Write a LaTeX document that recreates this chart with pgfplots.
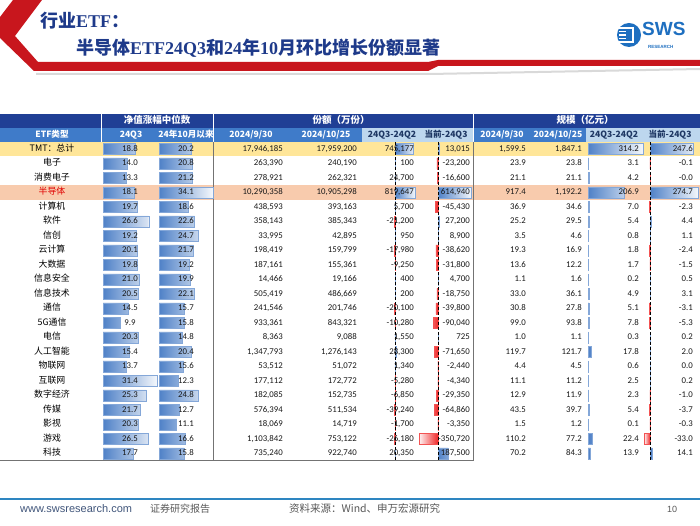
\documentclass[border=0pt]{standalone}
\usepackage{pgfplots}
\pgfplotsset{compat=1.18}
\usepackage{pgfplotstable}
\usepackage{fontspec}
\setmainfont{Carlito}
\newfontfamily\cjk{Noto Sans CJK SC}
\newfontfamily\tser{Liberation Serif}
\newfontfamily\lsans{Liberation Sans}
\definecolor{hdark}{HTML}{203F95}
\definecolor{hmid}{HTML}{3F7BC9}
\definecolor{hlight}{HTML}{BDD7EE}
\definecolor{htext}{HTML}{1F3864}
\definecolor{rowy}{HTML}{FFE699}
\definecolor{rowo}{HTML}{F8CBAD}
\definecolor{barb}{HTML}{4F81C7}
\definecolor{barr}{HTML}{F02828}
\definecolor{swsred}{HTML}{C8161D}
\definecolor{ttl}{HTML}{1E3A8A}
\definecolor{foot}{HTML}{2E86C1}
\definecolor{semi}{HTML}{E00000}
\definecolor{logob}{HTML}{1E6FC0}

\pgfplotstableread{
row q3 oct sd sc gd gc
0 18.8 20.2 745177 13015 314.2 247.6
1 14.0 20.8 100 -23200 3.1 -0.1
2 13.3 21.2 24700 -16600 4.2 -0.04
3 18.1 34.1 819647 614940 206.9 274.7
4 19.7 18.6 5700 -45430 7.0 -2.3
5 26.6 22.6 -21200 27200 5.4 4.4
6 19.2 24.7 950 8900 0.8 1.1
7 20.1 21.7 -17980 -38620 1.8 -2.4
8 19.8 19.2 -9250 -31800 1.7 -1.5
9 21.0 19.9 400 4700 0.2 0.5
10 20.5 22.1 200 -18750 4.9 3.1
11 14.5 15.7 -20100 -39800 5.1 -3.1
12 9.9 15.8 -10280 -90040 7.8 -5.3
13 20.3 14.8 1550 725 0.3 0.2
14 15.4 20.4 28300 -71650 17.8 2.0
15 13.7 15.6 1340 -2440 0.6 0.04
16 31.4 12.3 -5280 -4340 2.5 0.2
17 25.3 24.8 -6850 -29350 2.3 -1.0
18 21.7 12.7 -39240 -64860 5.4 -3.7
19 20.3 11.1 -1700 -3350 0.1 -0.3
20 26.5 16.6 -26180 -350720 22.4 -33.0
21 17.7 15.8 20350 187500 13.9 14.1
}\tdata

\pgfplotsset{
 bcol/.style={scale only axis, hide axis, height=319pt, ymin=-0.5, ymax=21.5,
   y dir=reverse, clip=false, anchor=north west},
 pbar/.style={xbar, bar width=0.76, bar shift=0pt, draw=barb!70, line width=0.4pt,
   left color=barb, right color=barb!6},
 nbar/.style={xbar, bar width=0.76, bar shift=0pt, draw=barr!80, line width=0.4pt,
   left color=barr!6, right color=barr},
 zline/.style={black, densely dashed, line width=0.5pt, forget plot}
}

\begin{document}
\begin{tikzpicture}[x=1pt,y=1pt]
\path[use as bounding box] (0,0) rectangle (700,525);
\fill[white] (0,0) rectangle (700,525);

% title decoration
\fill[black!15] (36,452) -- (430,452) -- (700,457) -- (700,455) -- (430,450) -- (36,450) -- cycle;
\fill[swsred] (13,525) -- (42,525) -- (15,489) -- (38,463) -- (428,463) -- (438,465) -- (700,465)
  -- (700,459) -- (438,459) -- (428,454) -- (34,454) -- (0,487) -- (0,508) -- cycle;
\node[anchor=mid west, inner sep=0, text=ttl, font=\bfseries\fontsize{18}{20}\selectfont] at (40,500)
  {{\cjk 行业}{\tser ETF}{\cjk ：}};
\node[anchor=mid west, inner sep=0, text=ttl, font=\bfseries\fontsize{18}{20}\selectfont] at (76,473)
  {{\cjk 半导体}{\tser ETF24Q3}{\cjk 和}{\tser 24}{\cjk 年}{\tser 10}{\cjk 月环比增长份额显著}};

% logo
\fill[logob] (629,490) circle (12);
\foreach \k in {-7,-3.5,0,3.5,7} \fill[white] (618.5,{490+\k-0.8}) rectangle (626,{490+\k+0.8});
\draw[white, line width=1.4pt] (626,497) -- (633,497) -- (633,483) -- (626,483);
\node[anchor=mid west, inner sep=0, text=logob, font=\lsans\bfseries\fontsize{19}{20}\selectfont] at (642,492) {SWS};
\node[anchor=mid west, inner sep=0, text=logob, font=\lsans\bfseries\fontsize{4.5}{5}\selectfont] at (648,479) {RESEARCH};

% header
\fill[hdark] (0,397) rectangle (700,411);
\fill[hmid] (0,383.25) rectangle (700,397);
\fill[hlight] (362,383.25) rectangle (473,397);
\fill[hlight] (586,383.25) rectangle (700,397);
\foreach \xx in {101,213,473} \draw[white, line width=1pt] (\xx,383.25) -- (\xx,411);

% highlighted rows
\fill[rowy] (0,368.75) rectangle (700,383.25);
\fill[rowo] (0,325.25) rectangle (700,339.75);

% grid lines
\draw[black!55, line width=0.6pt] (213,383.25) -- (213,64.25);
\draw[black!55, line width=0.6pt] (473,383.25) -- (473,64.25);
\draw[black!55, line width=0.6pt] (0,64.25) -- (473,64.25);

% data bars
\begin{axis}[bcol, at={(103pt,383.25pt)}, width=55pt, xmin=0, xmax=32]
\addplot[pbar] table[x=q3, y=row]{\tdata};
\end{axis}
\begin{axis}[bcol, at={(159pt,383.25pt)}, width=54pt, xmin=0, xmax=34.2]
\addplot[pbar] table[x=oct, y=row]{\tdata};
\end{axis}
\begin{axis}[bcol, at={(361.925pt,383.25pt)}, width=57.575pt, xmin=-1350000, xmax=1000000]
\addplot[pbar, restrict x to domain=0:3000000] table[x=sd, y=row]{\tdata};
\addplot[nbar, restrict x to domain=-3000000:0] table[x=sd, y=row]{\tdata};
\addplot[zline] coordinates {(0,-0.5) (0,21.5)};
\end{axis}
\begin{axis}[bcol, at={(416.4pt,383.25pt)}, width=59.4pt, xmin=-400000, xmax=700000]
\addplot[pbar, restrict x to domain=0:3000000] table[x=sc, y=row]{\tdata};
\addplot[nbar, restrict x to domain=-3000000:0] table[x=sc, y=row]{\tdata};
\addplot[zline] coordinates {(0,-0.5) (0,21.5)};
\end{axis}
\begin{axis}[bcol, at={(588pt,383.25pt)}, width=56pt, xmin=0, xmax=320]
\addplot[pbar] table[x=gd, y=row]{\tdata};
\end{axis}
\begin{axis}[bcol, at={(643pt,383.25pt)}, width=56pt, xmin=-40, xmax=280]
\addplot[pbar, restrict x to domain=0:1000] table[x=gc, y=row]{\tdata};
\addplot[nbar, restrict x to domain=-1000:0] table[x=gc, y=row]{\tdata};
\addplot[zline] coordinates {(0,-0.5) (0,21.5)};
\end{axis}

% header texts
\tikzset{h1/.style={anchor=mid, inner sep=0, text=white, font=\cjk\bfseries\fontsize{9.5}{10}\selectfont},
         h2/.style={anchor=mid, inner sep=0, text=white, font=\cjk\bfseries\fontsize{8.6}{9}\selectfont},
         h3/.style={h2, text=htext}}
\node[h1] at (157,404) {净值涨幅中位数};
\node[h1] at (341,404) {份额（万份）};
\node[h1] at (585,404) {规模（亿元）};
\node[h2] at (52,390) {ETF类型};
\node[h2] at (131,390) {24Q3};
\node[h2] at (186,390) {24年10月以来};
\node[h2] at (251,390) {2024/9/30};
\node[h2] at (326,390) {2024/10/25};
\node[h3] at (392,390) {24Q3-24Q2};
\node[h3] at (446,390) {当前-24Q3};
\node[h2] at (502,390) {2024/9/30};
\node[h2] at (558,390) {2024/10/25};
\node[h3] at (614,390) {24Q3-24Q2};
\node[h3] at (670,390) {当前-24Q3};

% body texts
\tikzset{lab/.style={anchor=mid, inner sep=0, font=\cjk\fontsize{8.9}{9}\selectfont},
         num/.style={anchor=mid east, inner sep=0, text=black!90, font=\fontsize{8.8}{9}\selectfont},
         numc/.style={num, anchor=mid}}
\foreach \i/\nm/\va/\vb/\vc/\vd/\ve/\vf/\vg/\vh/\vk/\vl in {
0/{TMT：总计}/18.8/20.2/{17,946,185}/{17,959,200}/{745,177}/{13,015}/{1,599.5}/{1,847.1}/314.2/247.6,
1/电子/14.0/20.8/{263,390}/{240,190}/100/{-23,200}/23.9/23.8/3.1/-0.1,
2/消费电子/13.3/21.2/{278,921}/{262,321}/{24,700}/{-16,600}/21.1/21.1/4.2/-0.0,
3/{\color{semi}半导体}/18.1/34.1/{10,290,358}/{10,905,298}/{819,647}/{614,940}/917.4/{1,192.2}/206.9/274.7,
4/计算机/19.7/18.6/{438,593}/{393,163}/{5,700}/{-45,430}/36.9/34.6/7.0/-2.3,
5/软件/26.6/22.6/{358,143}/{385,343}/{-21,200}/{27,200}/25.2/29.5/5.4/4.4,
6/信创/19.2/24.7/{33,995}/{42,895}/950/{8,900}/3.5/4.6/0.8/1.1,
7/云计算/20.1/21.7/{198,419}/{159,799}/{-17,980}/{-38,620}/19.3/16.9/1.8/-2.4,
8/大数据/19.8/19.2/{187,161}/{155,361}/{-9,250}/{-31,800}/13.6/12.2/1.7/-1.5,
9/信息安全/21.0/19.9/{14,466}/{19,166}/400/{4,700}/1.1/1.6/0.2/0.5,
10/信息技术/20.5/22.1/{505,419}/{486,669}/200/{-18,750}/33.0/36.1/4.9/3.1,
11/通信/14.5/15.7/{241,546}/{201,746}/{-20,100}/{-39,800}/30.8/27.8/5.1/-3.1,
12/5G通信/9.9/15.8/{933,361}/{843,321}/{-10,280}/{-90,040}/99.0/93.8/7.8/-5.3,
13/电信/20.3/14.8/{8,363}/{9,088}/{1,550}/725/1.0/1.1/0.3/0.2,
14/人工智能/15.4/20.4/{1,347,793}/{1,276,143}/{28,300}/{-71,650}/119.7/121.7/17.8/2.0,
15/物联网/13.7/15.6/{53,512}/{51,072}/{1,340}/{-2,440}/4.4/4.5/0.6/0.0,
16/互联网/31.4/12.3/{177,112}/{172,772}/{-5,280}/{-4,340}/11.1/11.2/2.5/0.2,
17/数字经济/25.3/24.8/{182,085}/{152,735}/{-6,850}/{-29,350}/12.9/11.9/2.3/-1.0,
18/传媒/21.7/12.7/{576,394}/{511,534}/{-39,240}/{-64,860}/43.5/39.7/5.4/-3.7,
19/影视/20.3/11.1/{18,069}/{14,719}/{-1,700}/{-3,350}/1.5/1.2/0.1/-0.3,
20/游戏/26.5/16.6/{1,103,842}/{753,122}/{-26,180}/{-350,720}/110.2/77.2/22.4/-33.0,
21/科技/17.7/15.8/{735,240}/{922,740}/{20,350}/{187,500}/70.2/84.3/13.9/14.1}
{
 \pgfmathsetmacro\yy{376-14.5*\i}
 \node[lab] at (52,\yy) {\nm};
 \node[numc] at (130,\yy) {\va};
 \node[numc] at (186,\yy) {\vb};
 \node[num] at (283,\yy) {\vc};
 \node[num] at (357,\yy) {\vd};
 \node[num] at (414,\yy) {\ve};
 \node[num] at (470,\yy) {\vf};
 \node[num] at (526,\yy) {\vg};
 \node[num] at (582,\yy) {\vh};
 \node[num] at (639,\yy) {\vk};
 \node[num] at (693,\yy) {\vl};
}

% footer
\draw[foot, line width=1.3pt] (0,26) -- (700,26);
\node[anchor=mid west, inner sep=0, text=htext!85, font=\lsans\fontsize{11}{12}\selectfont] at (20,15) {www.swsresearch.com};
\node[anchor=mid west, inner sep=0, text=black!65, font=\cjk\fontsize{10}{11}\selectfont] at (150,15) {证券研究报告};
\node[anchor=mid west, inner sep=0, text=black!65, font=\cjk\fontsize{10.5}{11}\selectfont] at (289,15) {资料来源：Wind、申万宏源研究};
\node[anchor=mid, inner sep=0, text=black!65, font=\lsans\fontsize{9}{10}\selectfont] at (672,15) {10};
\end{tikzpicture}
\end{document}
